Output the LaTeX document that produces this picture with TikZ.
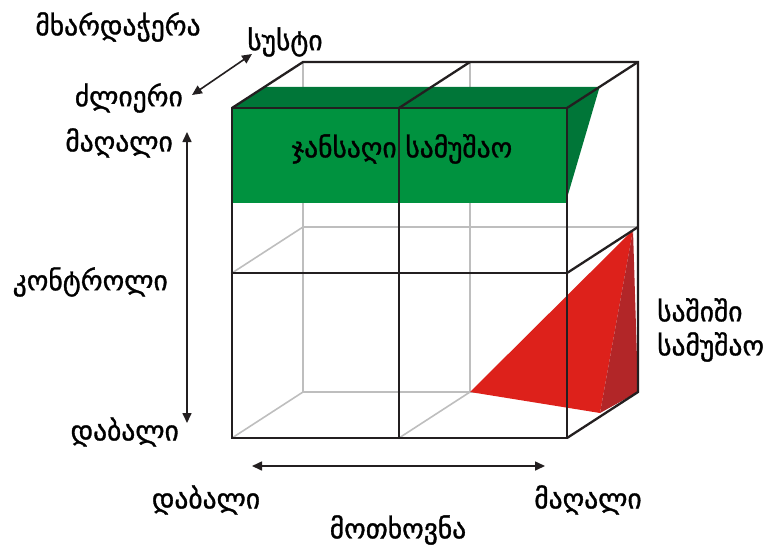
\documentclass[tikz,border=0pt]{standalone}
\usepackage{fontspec}
\setmainfont{DejaVu Sans}
\usetikzlibrary{arrows.meta,positioning,calc}
\definecolor{safegreen}{RGB}{0,146,63}
\definecolor{darkgreen}{RGB}{0,118,56}
\definecolor{riskred}{RGB}{221,33,27}
\definecolor{darkred}{RGB}{178,38,40}
\definecolor{gridgray}{RGB}{190,190,190}
\definecolor{edgeblack}{RGB}{35,31,32}

\begin{document}
\begin{tikzpicture}[x=1pt,y=-1pt,
  lbl/.style={font=\fontsize{27.5}{31}\selectfont\addfontfeature{FakeBold=1.2},inner sep=0pt},
  frontedge/.style={draw=edgeblack,line width=2.3pt,line cap=round},
  backedge/.style={draw=gridgray,line width=1.6pt},
  axis/.style={{Triangle[length=10pt,width=9pt]}-{Triangle[length=10pt,width=9pt]},line width=1.6pt,draw=edgeblack}
]
  \useasboundingbox (0,0) rectangle (775,551);
  % cube corners: f = front, b = back; t/m/b rows, l/m/r columns
  \foreach \r/\y in {t/108,m/273,b/438}{
    \foreach \c/\x in {l/232,m/399,r/567}{
      \coordinate (f\r\c) at (\x,\y);
      \coordinate (b\r\c) at (\x+71,\y-46);
    }
  }
  % hidden back lines
  \draw[backedge] (btl) -- (bbl) -- (bbr);
  \draw[backedge] (btm) -- (bbm);
  \draw[backedge] (bml) -- (bmr);
  \draw[backedge] (fbl) -- (bbl);
  \draw[backedge] (fml) -- (bml);
  \draw[backedge] (fbm) -- (bbm);

  % green block
  \coordinate (gtl) at ($(ftl)!.46!(btl)$);
  \coordinate (gtr) at ($(ftr)!.46!(btr)$);
  \fill[darkgreen] (ftl) -- (gtl) -- (gtr) -- (ftr) -- cycle;
  \fill[safegreen] (ftl) rectangle (567,203);
  \fill[darkgreen] (ftr) -- (gtr) -- (567,198) -- cycle;

  % red wedge
  \coordinate (rtop) at (633,230);
  \coordinate (rlow) at (600,413);
  \fill[riskred] (bbm) -- (rtop) -- (rlow) -- cycle;
  \fill[darkred] (rtop) -- (bbr) -- (rlow) -- cycle;

  % visible edges
  \draw[frontedge] (ftl) rectangle (fbr);
  \draw[frontedge] (ftm) -- (fbm);
  \draw[frontedge] (fml) -- (fmr);
  \draw[frontedge] (ftl) -- (btl) -- (btr) -- (bbr) -- (fbr);
  \draw[frontedge] (ftm) -- (btm);
  \draw[frontedge] (ftr) -- (btr);
  \draw[frontedge] (fmr) -- (bmr);

  \node[lbl] (safe) at (402,149) {ჯანსაღი სამუშაო};
  \node[lbl,align=left,anchor=west] (risk) at (657,330) {საშიში\\[3pt]სამუშაო};

  % axes
  \coordinate (ctrlhi) at (187,132);
  \coordinate (ctrllo) at (187,423);
  \coordinate (demlo) at (252,466);
  \coordinate (demhi) at (545,466);
  \coordinate (supstrong) at (192,95);
  \coordinate (supweak) at (252,54);
  \draw[axis] (ctrllo) -- (ctrlhi);
  \draw[axis] (demlo) -- (demhi);
  \draw[axis] (supstrong) -- (supweak);

  \node[lbl,anchor=east] (ctrlhitext) at (173,143) {მაღალი};
  \node[lbl,anchor=east] (ctrllotext) at (179,432) {დაბალი};
  \node[lbl,anchor=east] (ctrltext) at (168,282) {კონტროლი};
  \node[lbl] (demlotext) at (206,500) {დაბალი};
  \node[lbl] (demhitext) at (588,500) {მაღალი};
  \node[lbl] (demtext) at (398,530) {მოთხოვნა};
  \node[lbl,anchor=east] (supstrongtext) at (183,98) {ძლიერი};
  \node[lbl] (supweaktext) at (285,42) {სუსტი};
  \node[lbl] (suptext) at (118,27) {მხარდაჭერა};
\end{tikzpicture}
\end{document}
